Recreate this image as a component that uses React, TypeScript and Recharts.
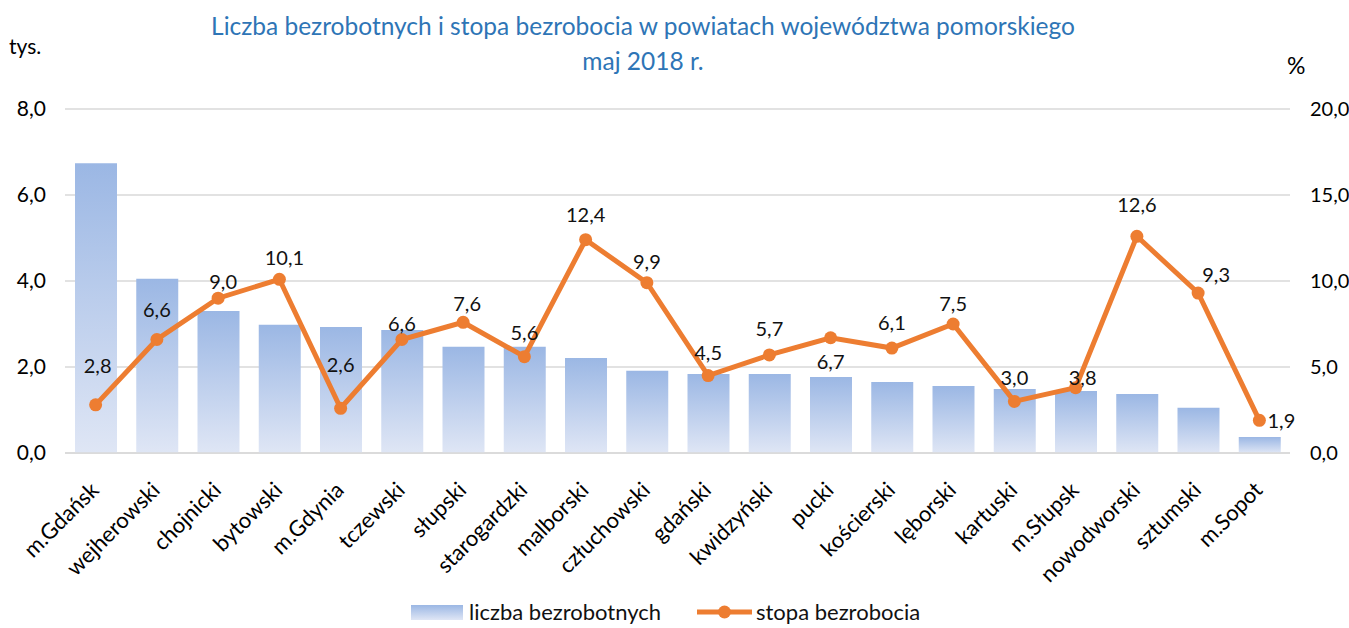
import { Bar, CartesianGrid, ComposedChart, Legend, Line, XAxis, YAxis } from 'recharts';

const powiaty = [
    'm.Gdańsk', 'wejherowski', 'chojnicki', 'bytowski', 'm.Gdynia', 'tczewski', 'słupski',
    'starogardzki', 'malborski', 'człuchowski', 'gdański', 'kwidzyński', 'pucki', 'kościerski',
    'lęborski', 'kartuski', 'm.Słupsk', 'nowodworski', 'sztumski', 'm.Sopot',
];
const bezrobotni = [6.74, 4.05, 3.3, 2.98, 2.93, 2.86, 2.47, 2.47, 2.21, 1.91, 1.84, 1.84, 1.77, 1.65, 1.56, 1.49, 1.44, 1.37, 1.05, 0.37];
const stopa = [2.8, 6.6, 9.0, 10.1, 2.6, 6.6, 7.6, 5.6, 12.4, 9.9, 4.5, 5.7, 6.7, 6.1, 7.5, 3.0, 3.8, 12.6, 9.3, 1.9];
const leftTicks = [0, 2, 4, 6, 8];
const rightTicks = [0, 5, 10, 15, 20];

// label offsets (dx, dy) from each point, as placed in the original chart
const labelShift: [number, number][] = [
    [2, -40], [0, -30], [5, -17], [5, -22], [0, -44], [0, -16], [4, -19], [0, -25], [0, -26], [0, -22],
    [0, -24], [0, -27], [0, 23], [0, -26], [0, -21], [0, -24], [7, -11], [0, -32], [18, -19], [22, 0],
];

const data = powiaty.map((name, i) => ({ name, liczba: bezrobotni[i], stopa: stopa[i] }));

const FONT = 'Lato, "Open Sans", sans-serif';
const fmt = (v: number) => v.toFixed(1).replace('.', ',');

const XTick = ({ x, y, payload }: any) => (
    <g transform={`translate(${x - 4},${y + 22})`}>
        <text transform="rotate(-45)" textAnchor="end" dy={12} fontSize={22} fill="#000" fontFamily={FONT}>
            {payload.value}
        </text>
    </g>
);

const PointLabel = ({ x, y, value, index }: any) => {
    const [dx, dy] = labelShift[index] ?? [0, -20];
    return (
        <text x={x + dx} y={y + dy} textAnchor="middle" dominantBaseline="central" fontSize={20} fill="#111" fontFamily={FONT}>
            {fmt(value)}
        </text>
    );
};

const LegendBox = () => (
    <div
        style={{
            display: 'flex',
            alignItems: 'center',
            height: 24,
            lineHeight: '24px',
            paddingLeft: 411,
            paddingTop: 6,
            fontFamily: FONT,
            fontSize: 22,
            color: '#111',
        }}
    >
        <svg width={52} height={15} style={{ marginRight: 6 }}>
            <defs>
                <linearGradient id="legGrad" x1="0" y1="0" x2="0" y2="1">
                    <stop offset="0%" stopColor="#9bb7e4" />
                    <stop offset="100%" stopColor="#dfe6f5" />
                </linearGradient>
            </defs>
            <rect width={52} height={15} fill="url(#legGrad)" />
        </svg>
        <span style={{ marginRight: 36 }}>liczba bezrobotnych</span>
        <svg width={55} height={16} style={{ marginRight: 4 }}>
            <line x1={0} y1={8} x2={55} y2={8} stroke="#ed7d31" strokeWidth={5} />
            <circle cx={27.5} cy={8} r={6.5} fill="#ed7d31" />
        </svg>
        <span>stopa bezrobocia</span>
    </div>
);

export default function App() {
    return (
        <div style={{ position: 'absolute', left: 0, top: 0, width: 1349, height: 628, background: '#fff', fontFamily: FONT }}>
            <div style={{ position: 'absolute', left: 0, width: 1286, top: 8, textAlign: 'center', color: '#2e75b6', fontSize: 24.5, lineHeight: '35px' }}>
                Liczba bezrobotnych i stopa bezrobocia w powiatach województwa pomorskiego
                <br />
                maj 2018 r.
            </div>
            <div style={{ position: 'absolute', left: 9, top: 33, fontSize: 21 }}>tys.</div>
            <div style={{ position: 'absolute', left: 1287, top: 51, fontSize: 23 }}>%</div>
            <ComposedChart width={1349} height={628} data={data} margin={{ top: 109, right: 0, bottom: 0, left: 0 }}>
                <defs>
                    <linearGradient id="barGrad" x1="0" y1="0" x2="0" y2="1">
                        <stop offset="0%" stopColor="#9bb7e4" />
                        <stop offset="100%" stopColor="#dfe6f5" />
                    </linearGradient>
                </defs>
                <CartesianGrid vertical={false} stroke="#d9d9d9" strokeWidth={1.5} yAxisId="left" />
                <XAxis dataKey="name" interval={0} height={141} tick={<XTick />} tickLine={false} axisLine={{ stroke: '#d9d9d9', strokeWidth: 1.5 }} />
                <YAxis
                    yAxisId="left"
                    width={65}
                    domain={[0, 8]}
                    ticks={leftTicks}
                    tickFormatter={fmt}
                    axisLine={false}
                    tickLine={false}
                    tickMargin={13}
                    tick={{ fontSize: 21, fill: '#000', fontFamily: FONT }}
                />
                <YAxis
                    yAxisId="right"
                    orientation="right"
                    width={59}
                    domain={[0, 20]}
                    ticks={rightTicks}
                    tickFormatter={fmt}
                    axisLine={false}
                    tickLine={false}
                    tickMargin={14}
                    tick={{ fontSize: 20, fill: '#000', fontFamily: FONT, textAnchor: 'start' }}
                />
                <Legend verticalAlign="bottom" height={34} content={<LegendBox />} />
                <Bar yAxisId="left" dataKey="liczba" barSize={42} fill="url(#barGrad)" isAnimationActive={false} />
                <Line
                    yAxisId="right"
                    dataKey="stopa"
                    stroke="#ed7d31"
                    strokeWidth={5}
                    dot={{ r: 6.5, fill: '#ed7d31', stroke: '#ed7d31', strokeWidth: 0 }}
                    activeDot={false}
                    label={<PointLabel />}
                    isAnimationActive={false}
                />
            </ComposedChart>
        </div>
    );
}
